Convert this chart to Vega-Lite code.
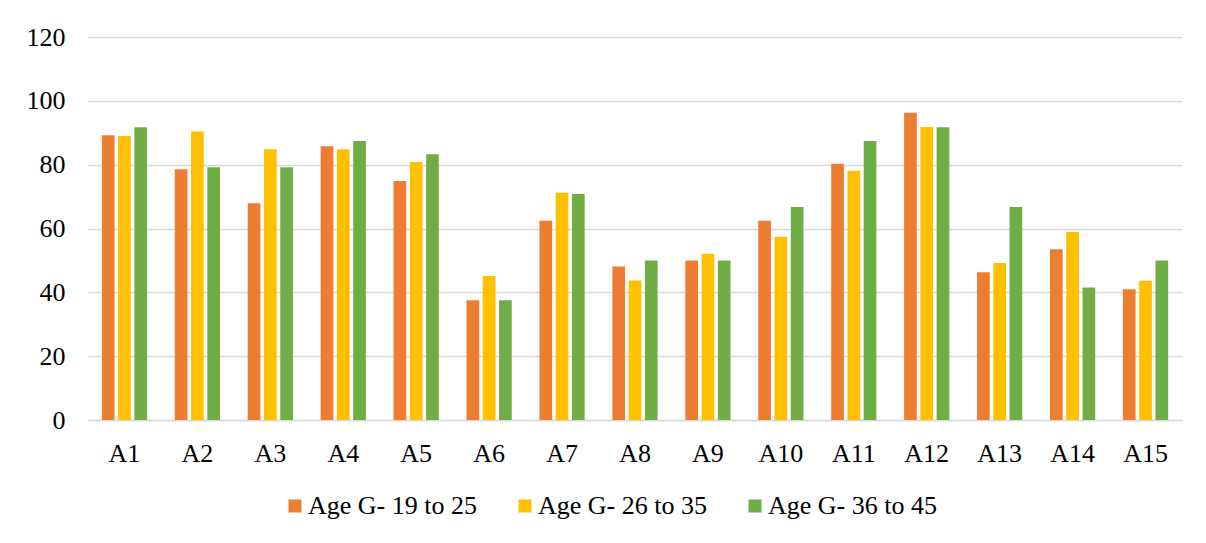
{
  "$schema": "https://vega.github.io/schema/vega-lite/v6.json",
  "width": 1094,
  "height": 383,
  "autosize": {"type": "none"},
  "padding": {"left": 88, "top": 37, "right": 24, "bottom": 123},
  "background": "white",
  "data": {
    "values": [
      {"cat": "A1", "group": "Age G- 19 to 25", "value": 89.2},
      {"cat": "A1", "group": "Age G- 26 to 35", "value": 89.0},
      {"cat": "A1", "group": "Age G- 36 to 45", "value": 91.7},
      {"cat": "A2", "group": "Age G- 19 to 25", "value": 78.6},
      {"cat": "A2", "group": "Age G- 26 to 35", "value": 90.4},
      {"cat": "A2", "group": "Age G- 36 to 45", "value": 79.2},
      {"cat": "A3", "group": "Age G- 19 to 25", "value": 67.9},
      {"cat": "A3", "group": "Age G- 26 to 35", "value": 84.8},
      {"cat": "A3", "group": "Age G- 36 to 45", "value": 79.2},
      {"cat": "A4", "group": "Age G- 19 to 25", "value": 85.8},
      {"cat": "A4", "group": "Age G- 26 to 35", "value": 84.8},
      {"cat": "A4", "group": "Age G- 36 to 45", "value": 87.4},
      {"cat": "A5", "group": "Age G- 19 to 25", "value": 74.9},
      {"cat": "A5", "group": "Age G- 26 to 35", "value": 80.8},
      {"cat": "A5", "group": "Age G- 36 to 45", "value": 83.3},
      {"cat": "A6", "group": "Age G- 19 to 25", "value": 37.5},
      {"cat": "A6", "group": "Age G- 26 to 35", "value": 45.1},
      {"cat": "A6", "group": "Age G- 36 to 45", "value": 37.5},
      {"cat": "A7", "group": "Age G- 19 to 25", "value": 62.4},
      {"cat": "A7", "group": "Age G- 26 to 35", "value": 71.2},
      {"cat": "A7", "group": "Age G- 36 to 45", "value": 70.8},
      {"cat": "A8", "group": "Age G- 19 to 25", "value": 48.1},
      {"cat": "A8", "group": "Age G- 26 to 35", "value": 43.7},
      {"cat": "A8", "group": "Age G- 36 to 45", "value": 50.0},
      {"cat": "A9", "group": "Age G- 19 to 25", "value": 50.0},
      {"cat": "A9", "group": "Age G- 26 to 35", "value": 52.1},
      {"cat": "A9", "group": "Age G- 36 to 45", "value": 50.0},
      {"cat": "A10", "group": "Age G- 19 to 25", "value": 62.4},
      {"cat": "A10", "group": "Age G- 26 to 35", "value": 57.4},
      {"cat": "A10", "group": "Age G- 36 to 45", "value": 66.7},
      {"cat": "A11", "group": "Age G- 19 to 25", "value": 80.3},
      {"cat": "A11", "group": "Age G- 26 to 35", "value": 78.1},
      {"cat": "A11", "group": "Age G- 36 to 45", "value": 87.4},
      {"cat": "A12", "group": "Age G- 19 to 25", "value": 96.3},
      {"cat": "A12", "group": "Age G- 26 to 35", "value": 91.8},
      {"cat": "A12", "group": "Age G- 36 to 45", "value": 91.7},
      {"cat": "A13", "group": "Age G- 19 to 25", "value": 46.3},
      {"cat": "A13", "group": "Age G- 26 to 35", "value": 49.2},
      {"cat": "A13", "group": "Age G- 36 to 45", "value": 66.7},
      {"cat": "A14", "group": "Age G- 19 to 25", "value": 53.5},
      {"cat": "A14", "group": "Age G- 26 to 35", "value": 58.9},
      {"cat": "A14", "group": "Age G- 36 to 45", "value": 41.5},
      {"cat": "A15", "group": "Age G- 19 to 25", "value": 41.0},
      {"cat": "A15", "group": "Age G- 26 to 35", "value": 43.6},
      {"cat": "A15", "group": "Age G- 36 to 45", "value": 50.0}
    ]
  },
  "mark": {"type": "bar"},
  "encoding": {
    "x": {
      "field": "cat",
      "type": "nominal",
      "sort": null,
      "scale": {"paddingInner": 0.38, "paddingOuter": 0.19},
      "axis": {
        "title": null,
        "labelAngle": 0,
        "labelPadding": 20,
        "ticks": false,
        "domainColor": "#d9d9d9",
        "domainWidth": 1.3,
        "grid": false
      }
    },
    "xOffset": {
      "field": "group",
      "type": "nominal",
      "scale": {"paddingInner": 0.22, "paddingOuter": 0}
    },
    "y": {
      "field": "value",
      "type": "quantitative",
      "scale": {"domain": [0, 120], "nice": false},
      "axis": {
        "title": null,
        "values": [0, 20, 40, 60, 80, 100, 120],
        "labelPadding": 23,
        "ticks": false,
        "domain": false,
        "gridColor": "#d9d9d9",
        "gridWidth": 1.3
      }
    },
    "color": {
      "field": "group",
      "type": "nominal",
      "scale": {
        "domain": ["Age G- 19 to 25", "Age G- 26 to 35", "Age G- 36 to 45"],
        "range": ["#ED7D31", "#FFC000", "#70AD47"]
      },
      "legend": {
        "title": null,
        "orient": "none",
        "legendX": 194,
        "legendY": 456,
        "direction": "horizontal",
        "symbolType": "square",
        "symbolSize": 169,
        "symbolStrokeWidth": 0,
        "labelOffset": 0,
        "labelLimit": 0,
        "columnPadding": 35
      }
    }
  },
  "config": {
    "view": {"stroke": null},
    "font": "Liberation Serif",
    "axis": {"labelFont": "Liberation Serif", "labelFontSize": 26, "labelColor": "#000000"},
    "legend": {"labelFont": "Liberation Serif", "labelFontSize": 26, "labelColor": "#000000"}
  }
}
